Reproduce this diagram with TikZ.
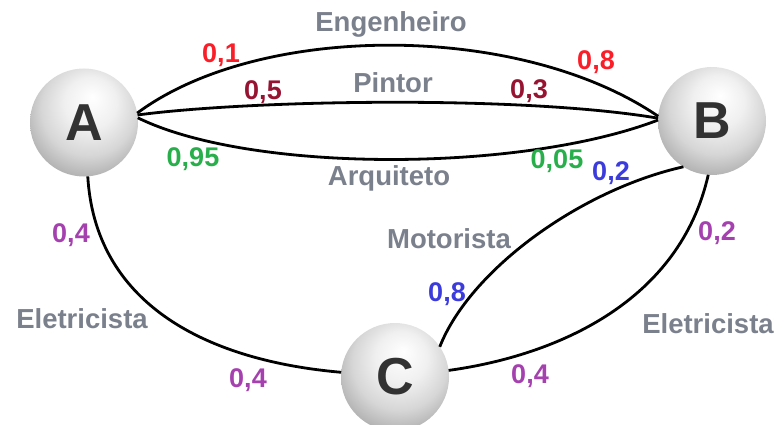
\documentclass[tikz,border=0pt]{standalone}
\usepackage{fontspec}
\setmainfont{Liberation Sans}
\definecolor{lblgray}{RGB}{122,128,140}
\definecolor{cred}{RGB}{250,30,40}
\definecolor{cmaroon}{RGB}{150,20,50}
\definecolor{cgreen}{RGB}{40,175,75}
\definecolor{cblue}{RGB}{60,60,220}
\definecolor{cpurple}{RGB}{165,65,175}
\definecolor{ltr}{RGB}{50,50,50}
\pgfdeclareradialshading{sball}{\pgfqpoint{4bp}{12bp}}{%
color(0bp)=(white); color(12bp)=(black!6); color(22bp)=(black!16);
color(30bp)=(black!30); color(38bp)=(black!48); color(50bp)=(black!48)}
\tikzset{
  ball/.style={circle, shading=sball, minimum size=108pt, inner sep=0pt, outer sep=0pt,
    font=\bfseries\fontsize{52}{52}\selectfont, text=ltr},
  lbl/.style={anchor=base, inner sep=0pt, font=\bfseries\fontsize{27.5}{27.5}\selectfont, text=lblgray},
  num/.style={anchor=base, inner sep=0pt, font=\bfseries\fontsize{27}{27}\selectfont},
  edge/.style={line width=2.8pt, black}
}
\begin{document}
\begin{tikzpicture}[x=1pt,y=-1pt]
\useasboundingbox (0,0) rectangle (779,425);
\begin{scope}
\clip (0,0) rectangle (779,425);
\node[ball] (A) at (84,122.5) {A};
\node[ball] (B) at (712,121) {B};
\node[ball] (C) at (395,377) {C};
\end{scope}
% edges
\draw[edge] (A.10) .. controls (260,22) and (520,22) .. (B.175);
\draw[edge] (A.8) .. controls (250,100) and (520,95) .. (B.177);
\draw[edge] (A.5) .. controls (250,173) and (520,173) .. (B.179);
\draw[edge] (A.-86) .. controls (95,300) and (200,360) .. (C.175);
\draw[edge] (B.-122) .. controls (580,190) and (470,270) .. (C.34);
\draw[edge] (B.-94) .. controls (680,300) and (560,355) .. (C.7);
% labels
\node[lbl] (lE) at (391,32) {Engenheiro};
\node[lbl] (lP) at (393,93) {Pintor};
\node[lbl] (lAr) at (389,185) {Arquiteto};
\node[lbl] (lM) at (449,248) {Motorista};
\node[lbl] (lEl1) at (82,328) {Eletricista};
\node[lbl] (lEl2) at (708,333) {Eletricista};
% numbers
\node[num, text=cred] (n1) at (221,63) {0,1};
\node[num, text=cred] (n2) at (596,70) {0,8};
\node[num, text=cmaroon] (n3) at (263,100) {0,5};
\node[num, text=cmaroon] (n4) at (529,99) {0,3};
\node[num, text=cgreen] (n5) at (193,167) {0,95};
\node[num, text=cgreen] (n6) at (557,168) {0,05};
\node[num, text=cblue] (n7) at (611,180) {0,2};
\node[num, text=cblue] (n8) at (447,301) {0,8};
\node[num, text=cpurple] (n9) at (71,242) {0,4};
\node[num, text=cpurple] (n10) at (248,387) {0,4};
\node[num, text=cpurple] (n11) at (717,240) {0,2};
\node[num, text=cpurple] (n12) at (530,383) {0,4};
\end{tikzpicture}
\end{document}
